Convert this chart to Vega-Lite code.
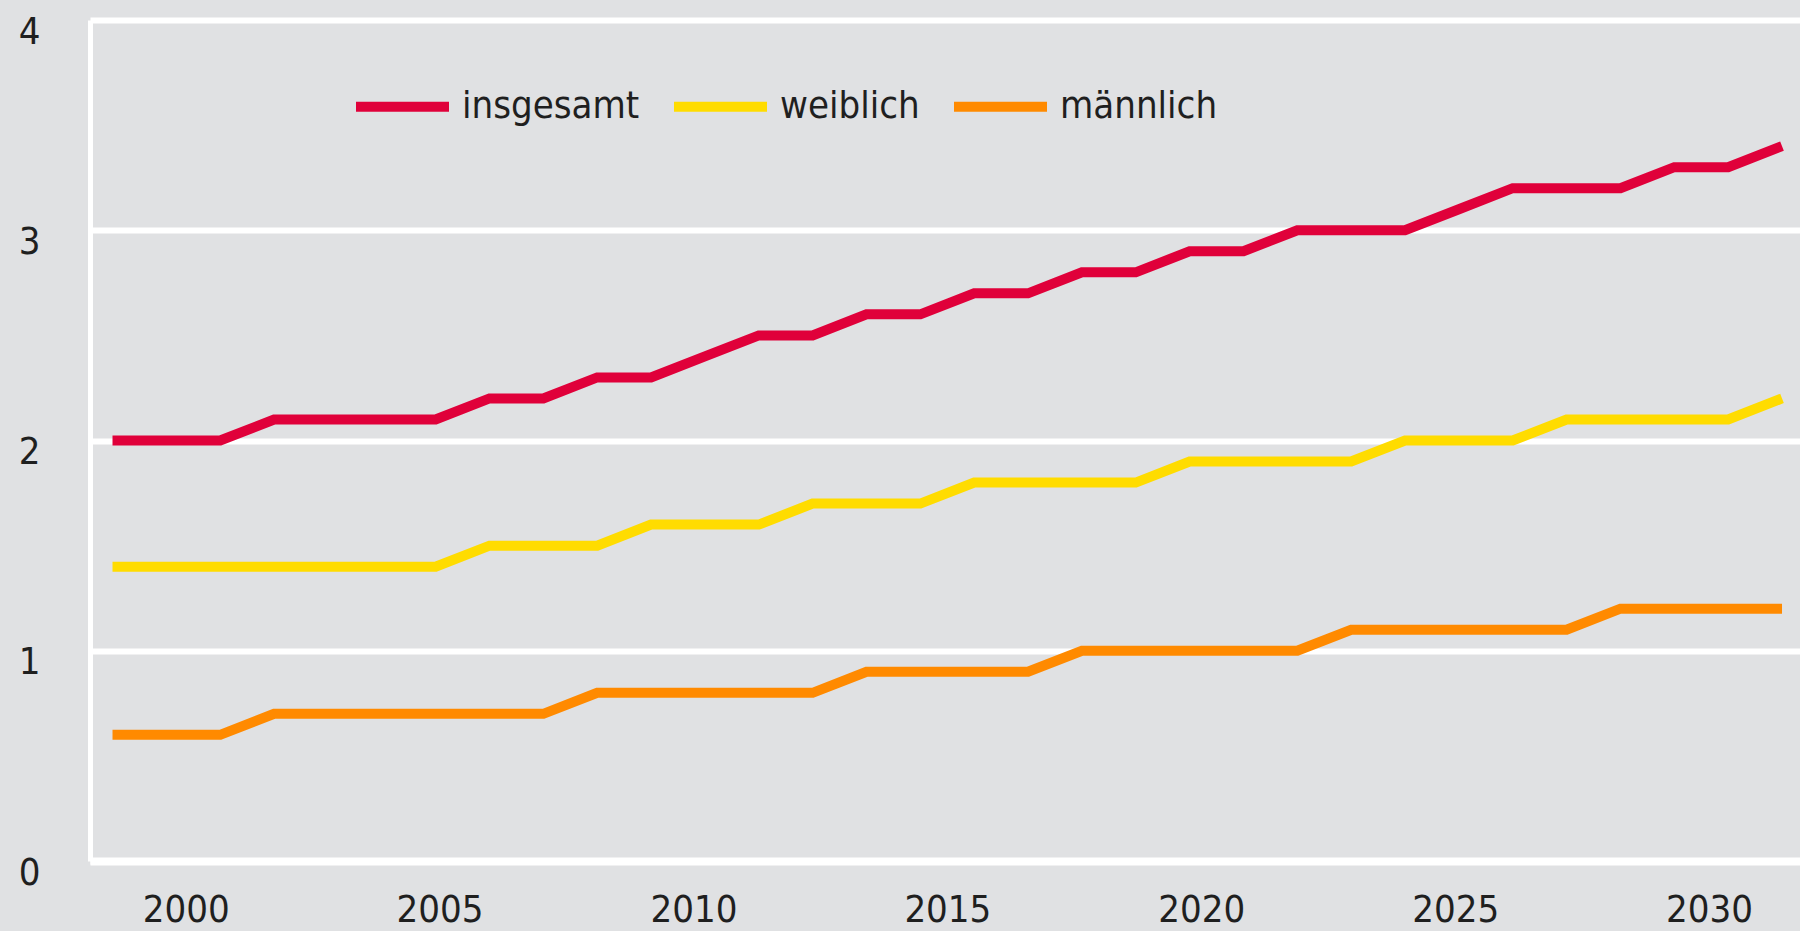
{
  "$schema": "https://vega.github.io/schema/vega-lite/v6.json",
  "width": 1710,
  "height": 841,
  "autosize": {"type": "none"},
  "padding": {"left": 90, "top": 20, "right": 0, "bottom": 70},
  "background": "#e0e1e3",
  "config": {
    "view": {"stroke": null},
    "font": "DejaVu Sans Condensed, DejaVu Sans, sans-serif"
  },
  "datasets": {
    "werte": [
      {"Jahr": 1999, "Gruppe": "insgesamt", "Wert": 2.0},
      {"Jahr": 2000, "Gruppe": "insgesamt", "Wert": 2.0},
      {"Jahr": 2001, "Gruppe": "insgesamt", "Wert": 2.0},
      {"Jahr": 2002, "Gruppe": "insgesamt", "Wert": 2.1},
      {"Jahr": 2003, "Gruppe": "insgesamt", "Wert": 2.1},
      {"Jahr": 2004, "Gruppe": "insgesamt", "Wert": 2.1},
      {"Jahr": 2005, "Gruppe": "insgesamt", "Wert": 2.1},
      {"Jahr": 2006, "Gruppe": "insgesamt", "Wert": 2.2},
      {"Jahr": 2007, "Gruppe": "insgesamt", "Wert": 2.2},
      {"Jahr": 2008, "Gruppe": "insgesamt", "Wert": 2.3},
      {"Jahr": 2009, "Gruppe": "insgesamt", "Wert": 2.3},
      {"Jahr": 2010, "Gruppe": "insgesamt", "Wert": 2.4},
      {"Jahr": 2011, "Gruppe": "insgesamt", "Wert": 2.5},
      {"Jahr": 2012, "Gruppe": "insgesamt", "Wert": 2.5},
      {"Jahr": 2013, "Gruppe": "insgesamt", "Wert": 2.6},
      {"Jahr": 2014, "Gruppe": "insgesamt", "Wert": 2.6},
      {"Jahr": 2015, "Gruppe": "insgesamt", "Wert": 2.7},
      {"Jahr": 2016, "Gruppe": "insgesamt", "Wert": 2.7},
      {"Jahr": 2017, "Gruppe": "insgesamt", "Wert": 2.8},
      {"Jahr": 2018, "Gruppe": "insgesamt", "Wert": 2.8},
      {"Jahr": 2019, "Gruppe": "insgesamt", "Wert": 2.9},
      {"Jahr": 2020, "Gruppe": "insgesamt", "Wert": 2.9},
      {"Jahr": 2021, "Gruppe": "insgesamt", "Wert": 3.0},
      {"Jahr": 2022, "Gruppe": "insgesamt", "Wert": 3.0},
      {"Jahr": 2023, "Gruppe": "insgesamt", "Wert": 3.0},
      {"Jahr": 2024, "Gruppe": "insgesamt", "Wert": 3.1},
      {"Jahr": 2025, "Gruppe": "insgesamt", "Wert": 3.2},
      {"Jahr": 2026, "Gruppe": "insgesamt", "Wert": 3.2},
      {"Jahr": 2027, "Gruppe": "insgesamt", "Wert": 3.2},
      {"Jahr": 2028, "Gruppe": "insgesamt", "Wert": 3.3},
      {"Jahr": 2029, "Gruppe": "insgesamt", "Wert": 3.3},
      {"Jahr": 2030, "Gruppe": "insgesamt", "Wert": 3.4},
      {"Jahr": 1999, "Gruppe": "weiblich", "Wert": 1.4},
      {"Jahr": 2000, "Gruppe": "weiblich", "Wert": 1.4},
      {"Jahr": 2001, "Gruppe": "weiblich", "Wert": 1.4},
      {"Jahr": 2002, "Gruppe": "weiblich", "Wert": 1.4},
      {"Jahr": 2003, "Gruppe": "weiblich", "Wert": 1.4},
      {"Jahr": 2004, "Gruppe": "weiblich", "Wert": 1.4},
      {"Jahr": 2005, "Gruppe": "weiblich", "Wert": 1.4},
      {"Jahr": 2006, "Gruppe": "weiblich", "Wert": 1.5},
      {"Jahr": 2007, "Gruppe": "weiblich", "Wert": 1.5},
      {"Jahr": 2008, "Gruppe": "weiblich", "Wert": 1.5},
      {"Jahr": 2009, "Gruppe": "weiblich", "Wert": 1.6},
      {"Jahr": 2010, "Gruppe": "weiblich", "Wert": 1.6},
      {"Jahr": 2011, "Gruppe": "weiblich", "Wert": 1.6},
      {"Jahr": 2012, "Gruppe": "weiblich", "Wert": 1.7},
      {"Jahr": 2013, "Gruppe": "weiblich", "Wert": 1.7},
      {"Jahr": 2014, "Gruppe": "weiblich", "Wert": 1.7},
      {"Jahr": 2015, "Gruppe": "weiblich", "Wert": 1.8},
      {"Jahr": 2016, "Gruppe": "weiblich", "Wert": 1.8},
      {"Jahr": 2017, "Gruppe": "weiblich", "Wert": 1.8},
      {"Jahr": 2018, "Gruppe": "weiblich", "Wert": 1.8},
      {"Jahr": 2019, "Gruppe": "weiblich", "Wert": 1.9},
      {"Jahr": 2020, "Gruppe": "weiblich", "Wert": 1.9},
      {"Jahr": 2021, "Gruppe": "weiblich", "Wert": 1.9},
      {"Jahr": 2022, "Gruppe": "weiblich", "Wert": 1.9},
      {"Jahr": 2023, "Gruppe": "weiblich", "Wert": 2.0},
      {"Jahr": 2024, "Gruppe": "weiblich", "Wert": 2.0},
      {"Jahr": 2025, "Gruppe": "weiblich", "Wert": 2.0},
      {"Jahr": 2026, "Gruppe": "weiblich", "Wert": 2.1},
      {"Jahr": 2027, "Gruppe": "weiblich", "Wert": 2.1},
      {"Jahr": 2028, "Gruppe": "weiblich", "Wert": 2.1},
      {"Jahr": 2029, "Gruppe": "weiblich", "Wert": 2.1},
      {"Jahr": 2030, "Gruppe": "weiblich", "Wert": 2.2},
      {"Jahr": 1999, "Gruppe": "männlich", "Wert": 0.6},
      {"Jahr": 2000, "Gruppe": "männlich", "Wert": 0.6},
      {"Jahr": 2001, "Gruppe": "männlich", "Wert": 0.6},
      {"Jahr": 2002, "Gruppe": "männlich", "Wert": 0.7},
      {"Jahr": 2003, "Gruppe": "männlich", "Wert": 0.7},
      {"Jahr": 2004, "Gruppe": "männlich", "Wert": 0.7},
      {"Jahr": 2005, "Gruppe": "männlich", "Wert": 0.7},
      {"Jahr": 2006, "Gruppe": "männlich", "Wert": 0.7},
      {"Jahr": 2007, "Gruppe": "männlich", "Wert": 0.7},
      {"Jahr": 2008, "Gruppe": "männlich", "Wert": 0.8},
      {"Jahr": 2009, "Gruppe": "männlich", "Wert": 0.8},
      {"Jahr": 2010, "Gruppe": "männlich", "Wert": 0.8},
      {"Jahr": 2011, "Gruppe": "männlich", "Wert": 0.8},
      {"Jahr": 2012, "Gruppe": "männlich", "Wert": 0.8},
      {"Jahr": 2013, "Gruppe": "männlich", "Wert": 0.9},
      {"Jahr": 2014, "Gruppe": "männlich", "Wert": 0.9},
      {"Jahr": 2015, "Gruppe": "männlich", "Wert": 0.9},
      {"Jahr": 2016, "Gruppe": "männlich", "Wert": 0.9},
      {"Jahr": 2017, "Gruppe": "männlich", "Wert": 1.0},
      {"Jahr": 2018, "Gruppe": "männlich", "Wert": 1.0},
      {"Jahr": 2019, "Gruppe": "männlich", "Wert": 1.0},
      {"Jahr": 2020, "Gruppe": "männlich", "Wert": 1.0},
      {"Jahr": 2021, "Gruppe": "männlich", "Wert": 1.0},
      {"Jahr": 2022, "Gruppe": "männlich", "Wert": 1.1},
      {"Jahr": 2023, "Gruppe": "männlich", "Wert": 1.1},
      {"Jahr": 2024, "Gruppe": "männlich", "Wert": 1.1},
      {"Jahr": 2025, "Gruppe": "männlich", "Wert": 1.1},
      {"Jahr": 2026, "Gruppe": "männlich", "Wert": 1.1},
      {"Jahr": 2027, "Gruppe": "männlich", "Wert": 1.2},
      {"Jahr": 2028, "Gruppe": "männlich", "Wert": 1.2},
      {"Jahr": 2029, "Gruppe": "männlich", "Wert": 1.2},
      {"Jahr": 2030, "Gruppe": "männlich", "Wert": 1.2}
    ],
    "achse": [
      {"Jahr": 2000}, {"Jahr": 2005}, {"Jahr": 2010}, {"Jahr": 2015},
      {"Jahr": 2020}, {"Jahr": 2025}, {"Jahr": 2030}
    ]
  },
  "resolve": {"scale": {"x": "independent"}, "axis": {"x": "independent"}},
  "layer": [
    {
      "data": {"name": "achse"},
      "mark": {"type": "rule", "strokeOpacity": 0},
      "encoding": {
        "x": {
          "field": "Jahr",
          "type": "quantitative",
          "scale": {"domain": [1998.117, 2031.79], "nice": false, "zero": false},
          "axis": {
            "orient": "bottom",
            "title": null,
            "values": [2000, 2005, 2010, 2015, 2020, 2025, 2030],
            "format": "d",
            "grid": false,
            "ticks": false,
            "domain": true,
            "domainColor": "#ffffff",
            "domainWidth": 8,
            "labelFont": "DejaVu Sans Condensed, DejaVu Sans, sans-serif",
            "labelFontSize": 38,
            "labelColor": "#1f1f1f",
            "labelPadding": 30,
            "labelFlush": false,
            "labelOverlap": false
          }
        }
      }
    },
    {
      "data": {"name": "werte"},
      "mark": {"type": "line", "strokeWidth": 10, "strokeCap": "butt", "strokeJoin": "miter"},
      "encoding": {
        "x": {
          "field": "Jahr",
          "type": "quantitative",
          "scale": {"domain": [1998.582, 2030.334], "nice": false, "zero": false},
          "axis": null
        },
        "y": {
          "field": "Wert",
          "type": "quantitative",
          "scale": {"domain": [0, 4], "nice": false},
          "axis": {
            "title": null,
            "values": [0, 1, 2, 3, 4],
            "format": "d",
            "grid": true,
            "gridColor": "#ffffff",
            "gridWidth": 6,
            "gridOpacity": 1,
            "ticks": false,
            "domain": true,
            "domainColor": "#ffffff",
            "domainWidth": 5,
            "labelFont": "DejaVu Sans Condensed, DejaVu Sans, sans-serif",
            "labelFontSize": 38,
            "labelColor": "#1f1f1f",
            "labelAlign": "center",
            "labelBaseline": "middle",
            "labelPadding": 61,
            "labelOffset": 12,
            "labelFlush": false,
            "labelOverlap": false
          }
        },
        "color": {
          "field": "Gruppe",
          "type": "nominal",
          "sort": ["insgesamt", "weiblich", "männlich"],
          "scale": {
            "domain": ["insgesamt", "weiblich", "männlich"],
            "range": ["#e0003a", "#ffdc00", "#ff8a00"]
          },
          "legend": {
            "orient": "none",
            "legendX": 261,
            "legendY": 35,
            "direction": "horizontal",
            "title": null,
            "symbolType": "stroke",
            "symbolSize": 8649,
            "symbolStrokeWidth": 10,
            "labelFont": "DejaVu Sans Condensed, DejaVu Sans, sans-serif",
            "labelFontSize": 38,
            "labelColor": "#1f1f1f",
            "labelLimit": 0,
            "labelOffset": 8,
            "columnPadding": 14,
            "padding": 0
          }
        }
      }
    }
  ]
}
